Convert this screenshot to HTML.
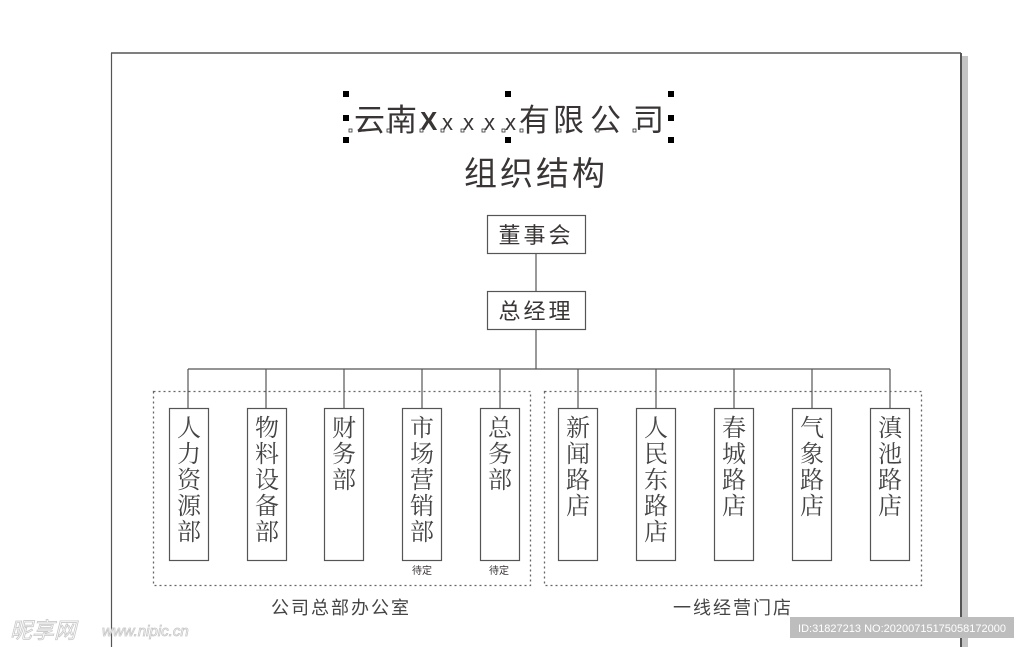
<!DOCTYPE html>
<html><head><meta charset="utf-8"><style>
html,body{margin:0;padding:0;background:#fff;width:1024px;height:647px;overflow:hidden}
svg{display:block}
text{font-family:"Liberation Sans","Noto Sans CJK SC",sans-serif;fill:#3a3535}
.sr text{font-family:"Liberation Serif","Noto Serif CJK SC",serif;fill:#444}
</style></head><body>
<svg width="1024" height="647" viewBox="0 0 1024 647" xmlns="http://www.w3.org/2000/svg">
<rect x="962" y="56" width="6" height="591" fill="#c4c4c4"/>
<line x1="111" y1="53" x2="961" y2="53" stroke="#555" stroke-width="1.5"/>
<line x1="111.5" y1="53" x2="111.5" y2="647" stroke="#555" stroke-width="1.2"/>
<line x1="961" y1="53" x2="961" y2="647" stroke="#555" stroke-width="2"/>

<g font-size="31">
<text x="354" y="131">云</text><text x="386" y="131">南</text>
<text x="420" y="130" font-size="26" font-weight="bold">X</text>
<text x="442" y="130" font-size="22">x</text><text x="463" y="130" font-size="22">x</text><text x="484" y="130" font-size="22">x</text><text x="505" y="130" font-size="22">x</text>
<text x="519" y="131">有</text><text x="553" y="131">限</text><text x="590" y="131">公</text><text x="633" y="131">司</text>
</g>
<g fill="#000">
<rect x="343" y="91" width="6" height="6"/><rect x="343" y="115" width="6" height="6"/><rect x="343" y="137" width="6" height="6"/>
<rect x="505" y="91" width="6" height="6"/><rect x="505" y="137" width="6" height="6"/>
<rect x="668" y="91" width="6" height="6"/><rect x="668" y="115" width="6" height="6"/><rect x="668" y="137" width="6" height="6"/>
</g>
<g fill="#fff" stroke="#333" stroke-width="0.8">
<rect x="349" y="129" width="3" height="3"/><rect x="387" y="129" width="3" height="3"/><rect x="420" y="129" width="3" height="3"/><rect x="441" y="129" width="3" height="3"/><rect x="461" y="129" width="3" height="3"/><rect x="482" y="129" width="3" height="3"/><rect x="502" y="129" width="3" height="3"/><rect x="520" y="129" width="3" height="3"/><rect x="558" y="129" width="3" height="3"/><rect x="596" y="129" width="3" height="3"/><rect x="633" y="129" width="3" height="3"/>
</g>
<text x="536" y="185" font-size="33" text-anchor="middle" letter-spacing="3">组织结构</text>

<g fill="none" stroke="#555" stroke-width="1.2">
<rect x="487.5" y="215.5" width="98" height="38"/>
<rect x="487.5" y="291.5" width="98" height="38"/>
<line x1="536" y1="254" x2="536" y2="291"/>
<line x1="536" y1="330" x2="536" y2="369"/>
<line x1="188" y1="369" x2="890" y2="369"/>
</g>
<text x="536" y="243" font-size="22" text-anchor="middle" letter-spacing="3">董事会</text>
<text x="536" y="319" font-size="22" text-anchor="middle" letter-spacing="3">总经理</text>

<g fill="none" stroke="#666" stroke-width="1.3" stroke-dasharray="2,3">
<rect x="153.5" y="391.5" width="377" height="194"/>
<rect x="544.5" y="391.5" width="377" height="194"/>
</g>

<g fill="none" stroke="#555" stroke-width="1.2">
<line x1="188" y1="369" x2="188" y2="408"/><rect x="169.5" y="408.5" width="39" height="152"/>
<line x1="266" y1="369" x2="266" y2="408"/><rect x="247.5" y="408.5" width="39" height="152"/>
<line x1="344" y1="369" x2="344" y2="408"/><rect x="324.5" y="408.5" width="39" height="152"/>
<line x1="422" y1="369" x2="422" y2="408"/><rect x="402.5" y="408.5" width="39" height="152"/>
<line x1="500" y1="369" x2="500" y2="408"/><rect x="480.5" y="408.5" width="39" height="152"/>
<line x1="578" y1="369" x2="578" y2="408"/><rect x="558.5" y="408.5" width="39" height="152"/>
<line x1="656" y1="369" x2="656" y2="408"/><rect x="636.5" y="408.5" width="39" height="152"/>
<line x1="734" y1="369" x2="734" y2="408"/><rect x="714.5" y="408.5" width="39" height="152"/>
<line x1="812" y1="369" x2="812" y2="408"/><rect x="792.5" y="408.5" width="39" height="152"/>
<line x1="890" y1="369" x2="890" y2="408"/><rect x="870.5" y="408.5" width="39" height="152"/>
</g>
<g class="sr" font-size="24" text-anchor="middle">
<text x="189" y="436">人</text><text x="189" y="462">力</text><text x="189" y="488">资</text><text x="189" y="514">源</text><text x="189" y="540">部</text>
<text x="267" y="436">物</text><text x="267" y="462">料</text><text x="267" y="488">设</text><text x="267" y="514">备</text><text x="267" y="540">部</text>
<text x="344" y="436">财</text><text x="344" y="462">务</text><text x="344" y="488">部</text>
<text x="422" y="436">市</text><text x="422" y="462">场</text><text x="422" y="488">营</text><text x="422" y="514">销</text><text x="422" y="540">部</text>
<text x="500" y="436">总</text><text x="500" y="462">务</text><text x="500" y="488">部</text>
<text x="578" y="436">新</text><text x="578" y="462">闻</text><text x="578" y="488">路</text><text x="578" y="514">店</text>
<text x="656" y="436">人</text><text x="656" y="462">民</text><text x="656" y="488">东</text><text x="656" y="514">路</text><text x="656" y="540">店</text>
<text x="734" y="436">春</text><text x="734" y="462">城</text><text x="734" y="488">路</text><text x="734" y="514">店</text>
<text x="812" y="436">气</text><text x="812" y="462">象</text><text x="812" y="488">路</text><text x="812" y="514">店</text>
<text x="890" y="436">滇</text><text x="890" y="462">池</text><text x="890" y="488">路</text><text x="890" y="514">店</text>
</g>
<text x="422" y="574" font-size="10" text-anchor="middle" fill="#666">待定</text>
<text x="499" y="574" font-size="10" text-anchor="middle" fill="#666">待定</text>

<text x="341" y="614" font-size="18" text-anchor="middle" letter-spacing="2" style="fill:#444">公司总部办公室</text>
<text x="733" y="614" font-size="18" text-anchor="middle" letter-spacing="2" style="fill:#444">一线经营门店</text>

<text x="10" y="638" font-size="22" font-style="italic" style="fill:#fff;stroke:#c8c8c8;stroke-width:0.8">昵享网</text>
<text x="102" y="636" font-size="15" font-style="italic" style="fill:#fff;stroke:#c8c8c8;stroke-width:0.8">www.nipic.cn</text>
<rect x="790" y="617" width="224" height="21" fill="#bdbdbd"/>
<text x="902" y="632" font-size="11" text-anchor="middle" style="fill:#fff">ID:31827213 NO:20200715175058172000</text>
</svg>
</body></html>
